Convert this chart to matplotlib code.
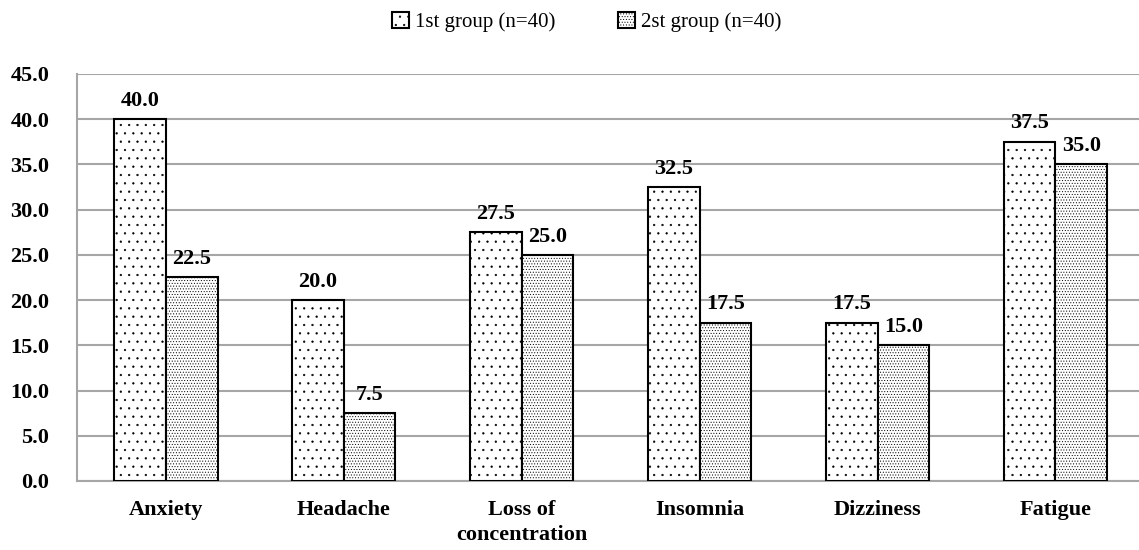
import matplotlib.pyplot as plt
import numpy as np

# data
categories = ["Anxiety", "Headache", "Loss of\nconcentration", "Insomnia", "Dizziness", "Fatigue"]
group1 = [40.0, 20.0, 27.5, 32.5, 17.5, 37.5]
group2 = [22.5, 7.5, 25.0, 17.5, 15.0, 35.0]
series_names = ["1st group (n=40)", "2st group (n=40)"]
yticks = [0, 5, 10, 15, 20, 25, 30, 35, 40, 45]

plt.rcParams['font.family'] = ['Liberation Serif', 'DejaVu Serif']
plt.rcParams['hatch.linewidth'] = 0.4

fig = plt.figure(figsize=(11.39, 5.5), dpi=100)
ax = fig.add_axes([0.0676, 0.1255, 0.9324, 0.74])

x = np.arange(len(categories))
w = 0.29
b1 = ax.bar(x - w/2, group1, w, color="white", edgecolor="black", linewidth=1.5, hatch="..", label=series_names[0], zorder=3)
b2 = ax.bar(x + w/2, group2, w, color="white", edgecolor="black", linewidth=1.5, hatch="......", label=series_names[1], zorder=3)

for bars in (b1, b2):
    ax.bar_label(bars, fmt="%.1f", padding=6, fontsize=16, fontweight="bold")

ax.set_ylim(0, 45)
ax.set_xlim(-0.5, 5.47)
ax.set_yticks(yticks)
ax.set_yticklabels(["%.1f" % v for v in yticks], fontsize=16, fontweight="bold")
ax.set_xticks(x)
ax.set_xticklabels(categories, fontsize=16, fontweight="bold", linespacing=1.3)
ax.tick_params(axis="y", length=0, pad=20)
ax.tick_params(axis="x", length=0, pad=14)
ax.grid(axis="y", color="#a6a6a6", linewidth=1.5, zorder=0)
for s in ["top", "right"]:
    ax.spines[s].set_visible(False)
ax.spines["left"].set_color("#a6a6a6")
ax.spines["bottom"].set_color("#a6a6a6")
ax.spines["left"].set_linewidth(1.5)
ax.spines["bottom"].set_linewidth(1.5)

fig.legend(loc="center", bbox_to_anchor=(0.515, 0.96), ncol=2, frameon=False, fontsize=15,
           handlelength=0.8, handleheight=0.8, handletextpad=0.3, columnspacing=3)

fig.savefig("out.png", dpi=100)
